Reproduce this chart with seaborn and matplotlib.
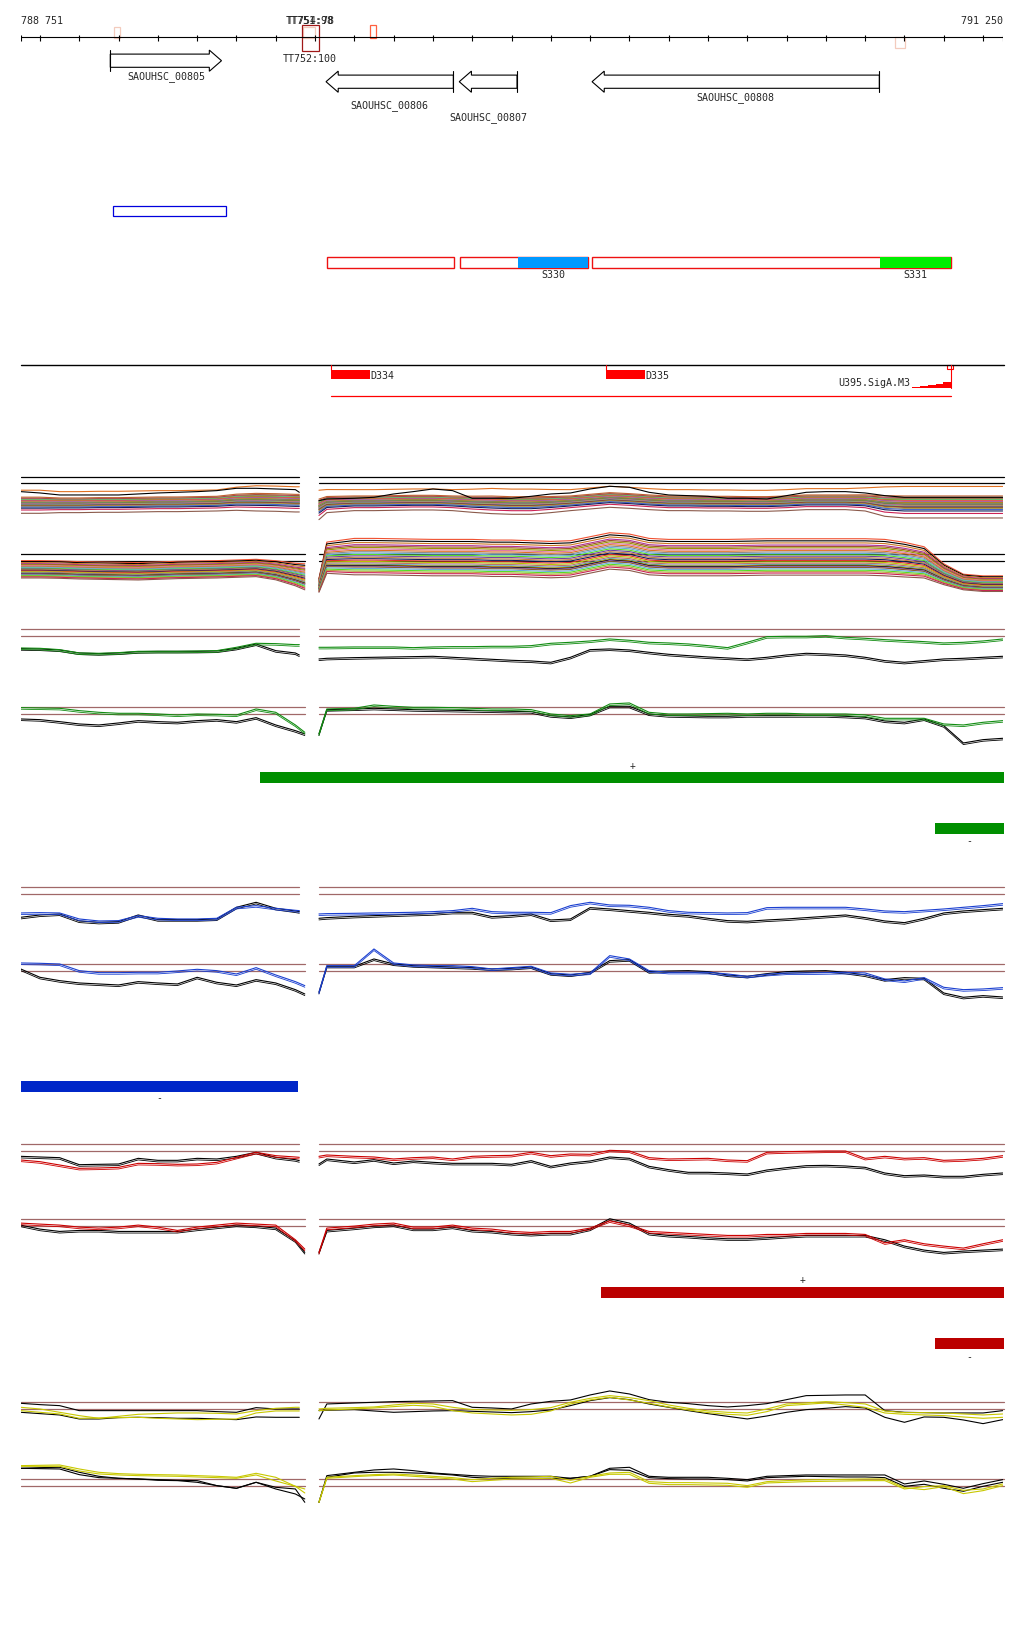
import pandas as pd
import seaborn as sns
import matplotlib.pyplot as plt
from matplotlib.patches import Rectangle, Polygon
from matplotlib.transforms import offset_copy

W, H = 1024, 1640
X0, X1 = 20.7, 1002.7          # pixel span of the ruler
START, END = 788751, 791250
EDGE = 791254                  # tracks run a few bp past the last tick

RULER_TICKS = [788751] + list(range(788800, 791201, 100)) + [791250]

# terminator / ruler marks (bp)
MARK_START = [788989, 789470, 789468, 789641, 790977]
MARK_END = [789004, 789500, 789511, 789656, 791001]
MARK_COLOR = ["#f3cbbd", "#f3cbbd", "#a01818", "#ff6040", "#f3cbbd"]
MARK_ROWS = [(28.3, 39.0), (28.3, 39.0), (26.3, 52.3), (26.3, 38.7), (38.3, 49.3)]
TT_TOP = ["TT751:98", "TT754:78"]
TT_BOTTOM = "TT752:100"
TT_POS = 789487

GENES = ["SAOUHSC_00805", "SAOUHSC_00806", "SAOUHSC_00807", "SAOUHSC_00808"]
GENE_START = [788979, 789528, 789867, 790205]
GENE_END = [789262, 789852, 790014, 790936]
GENE_STRAND = ["+", "-", "-", "-"]
GENE_LABEL_Y = [76.3, 106.0, 118.0, 97.3]

BLUE_BOX = (788985, 789273)
SEG_START = [789530, 789869, 790205]
SEG_END = [789853, 790195, 791118]
SITES = ["S330", "S331"]
SITE_START = [790016, 790937]
SITE_END = [790195, 791118]
SITE_COLOR = ["#0099ff", "#00ee00"]

PEAKS = ["D334", "D335"]
PEAK_START = [789540, 790240]
PEAK_END = [789641, 790340]
PROMOTER = "U395.SigA.M3"
PROMOTER_STEPS = [791019, 791039, 791059, 791079, 791099, 791118]
PROMOTER_SCORE = [1.0, 2.3, 3.3, 4.7, 6.7, 6.7]
RED_SPAN = (789540, 791118)

# strand bars: (start, end)
GREEN_PLUS = (789360, EDGE)
GREEN_MINUS = (791077, EDGE)
BLUE_MINUS = (788751, 789457)
RED_PLUS = (790228, EDGE)
RED_MINUS = (791077, EDGE)

# signal tracks sampled every 50 bp, left and right of the gap
LEFT_UP = [788751, 788800, 788850, 788900, 788950, 789000, 789050, 789100,
           789150, 789200, 789250, 789300, 789350, 789400, 789450, 789460]
LEFT_LOW = LEFT_UP[:-1] + [789474]
RIGHT = [789510, 789530, 789600, 789650, 789700, 789750, 789800, 789850,
         789900, 789950, 790000, 790050, 790100, 790150, 790200, 790250,
         790300, 790350, 790400, 790450, 790500, 790550, 790600, 790650,
         790700, 790750, 790800, 790850, 790900, 790950, 791000, 791050,
         791100, 791150, 791200, 791250]

# multi-sample bundles: common centre, spread and per-sample offsets
B1_CENTRE_L = [-57, -57, -58, -58, -57, -57, -56, -55, -55, -54, -53, -48, -47, -48, -50, -50]
B1_CENTRE_R = [-67, -55, -52, -52, -51, -50, -50, -52, -54, -55, -57, -57, -55, -52, -47, -42,
               -45, -49, -52, -52, -53, -53, -54, -54, -52, -49, -49, -49, -50, -57, -59, -59,
               -59, -59, -59, -59]
B1_SPREAD_L = [1.1, 1.1, 1.0, 1.0, 1.0, 1.0, 1.0, 1.0, 1.0, 1.0, 1.0, 1.1, 1.2, 1.2, 1.2, 1.2]
B1_SPREAD_R = [1.4, 1.1, 1.0, 1.0, 1.0, 1.0, 1.0, 1.0, 1.1, 1.2, 1.2, 1.2, 1.1, 1.0, 1.0, 1.0,
               1.0, 1.0, 1.0, 1.0, 1.0, 1.0, 1.0, 1.0, 1.0, 1.0, 1.0, 1.0, 1.1, 1.4, 1.5, 1.5,
               1.5, 1.5, 1.5, 1.5]
B1_TOP_L = [-25, -29, -35, -35, -35, -35, -32, -29, -27, -25, -22, -15, -15, -17, -19, -27]
B1_TOP_R = [-52, -47, -45, -42, -32, -25, -17, -22, -45, -45, -45, -39, -32, -29, -17, -9,
            -12, -27, -35, -37, -39, -45, -45, -47, -37, -27, -25, -25, -29, -37, -42, -42,
            -42, -42, -42, -42]
B1_OFFSETS = [33, 14, 11, 9, 8, 7, 6, 5, 4, 3, 2, 1, 0, 0, -1, -2, -3, -4, -5, -6, -7, -8,
              -9, -11, -13, -16, -21, -30]
B1_COLORS = ["#e07020", "#c06030", "#a0522d", "#b0309a", "#999900", "#66aadd", "#55dd22",
             "#e03030", "#f08060", "#7040a0", "#dd77aa", "#8c8c8c", "#b5c400", "#cc6600",
             "#3399aa", "#c08040", "#2e8b2e", "#bc6f6f", "#9966cc", "#d4a017", "#44bbcc",
             "#8b2252", "#8b5a2b", "#b8a040", "#4466cc", "#10205a", "#cc2255", "#8b5a4b"]

B2_CENTRE_L = [-25, -25, -26, -28, -29, -30, -31, -29, -27, -26, -25, -23, -21, -28, -41, -48]
B2_CENTRE_R = [-73, 9, 12, 12, 11, 10, 9, 9, 9, 7, 7, 5, 3, 5, 17, 29, 25, 12, 9, 9, 9, 9,
               10, 11, 11, 11, 11, 11, 11, 9, 3, -5, -40, -63, -68, -68]
B2_SPREAD_L = [1.0, 1.0, 1.0, 1.0, 1.0, 1.0, 1.0, 1.0, 1.0, 1.0, 1.0, 1.0, 1.0, 1.1, 1.3, 1.5]
B2_SPREAD_R = [0.8, 1.8, 2.1, 2.1, 2.1, 2.1, 2.1, 2.1, 2.1, 2.1, 2.1, 2.1, 2.1, 2.1, 2.1, 2.1,
               2.1, 2.1, 2.1, 2.1, 2.1, 2.1, 2.1, 2.1, 2.1, 2.1, 2.1, 2.1, 2.1, 2.1, 2.0, 1.8,
               1.2, 0.9, 0.9, 0.9]
B2_OFFSETS = [27, 24, 21, 18, 16, 14, 12, 10, 8, 6, 4, 2, 0, -2, -4, -6, -8, -10, -11, -12,
              -13, -14, -16, -18, -20, -22, -25]
B2_COLORS = ["#f05030", "#000000", "#cc7722", "#b0309a", "#a0522d", "#999900", "#dd77aa",
             "#e07020", "#8c8c8c", "#66aadd", "#55dd22", "#7040a0", "#c08040", "#10205a",
             "#e03030", "#b5c400", "#bc6f6f", "#3399aa", "#d4a017", "#000000", "#9966cc",
             "#8b5a2b", "#66aadd", "#55dd22", "#b8a040", "#cc2255", "#8b5a4b"]

# paired tracks (colour sample vs black sample)
G1_GREEN_L = [-35, -36, -40, -50, -51, -49, -45, -45, -45, -44, -43, -33, -21, -22, -25, -25]
G1_BLACK_L = [-37, -38, -41, -50, -52, -50, -46, -45, -45, -45, -44, -36, -23, -43, -50, -56]
G1_GREEN_R = [-33, -33, -32, -32, -32, -34, -32, -31, -31, -30, -30, -28, -21, -18, -14, -8,
              -12, -18, -20, -23, -28, -34, -18, -1, 0, 0, 2, -3, -6, -10, -13, -16, -20, -18,
              -14, -8]
G1_BLACK_R = [-68, -66, -64, -63, -62, -61, -60, -63, -66, -69, -72, -74, -78, -63, -40, -38,
              -41, -48, -54, -58, -62, -65, -68, -63, -56, -51, -53, -56, -63, -73, -78, -73,
              -68, -66, -63, -60]
G2_GREEN_L = [20, 19, 18, 11, 6, 3, 3, 1, -2, 1, 0, -2, 16, 6, -32, -54]
G2_BLACK_L = [-14, -16, -22, -29, -32, -26, -19, -22, -24, -19, -16, -22, -10, -32, -49, -59]
G2_GREEN_R = [-59, 16, 18, 28, 24, 21, 21, 20, 18, 16, 16, 14, 1, -4, 1, 31, 34, 6, 1, 1, 2,
              3, 1, 3, 3, 1, 1, 1, -2, -12, -12, -12, -29, -32, -24, -19]
G2_BLACK_R = [-59, 14, 16, 18, 16, 14, 13, 12, 11, 10, 9, 8, -4, -8, 0, 24, 24, 1, -4, -5, -6,
              -6, -4, -4, -4, -4, -4, -6, -9, -20, -24, -14, -34, -86, -76, -72]

B1_BLUE_L = [-56, -55, -56, -74, -80, -79, -64, -72, -74, -74, -72, -39, -34, -42, -48, -49]
B1_BLACK_L = [-69, -62, -59, -80, -84, -82, -62, -76, -76, -76, -74, -39, -24, -42, -50, -52]
B1_BLUE_R = [-59, -58, -57, -56, -55, -54, -52, -49, -42, -52, -54, -54, -55, -34, -24, -32,
             -33, -39, -49, -54, -55, -56, -55, -40, -39, -39, -39, -39, -44, -50, -52, -48,
             -44, -39, -34, -28]
B1_BLACK_R = [-72, -70, -66, -64, -62, -60, -58, -54, -54, -67, -64, -59, -77, -74, -40, -44,
              -49, -54, -60, -64, -72, -79, -81, -77, -74, -70, -66, -62, -70, -80, -85, -72,
              -56, -50, -46, -42]
B2_BLUE_L = [25, 24, 22, 2, -4, -4, -3, -3, 1, 6, 2, -8, 11, -11, -31, -43]
B2_BLACK_L = [7, -18, -28, -35, -38, -41, -31, -35, -38, -18, -33, -41, -25, -35, -55, -68]
B2_BLUE_R = [-63, 17, 17, 67, 25, 19, 17, 17, 14, 7, 11, 15, -5, -9, -5, 47, 37, 2, -3, -3, -3,
             -8, -15, -9, -5, -5, -4, -3, -5, -23, -29, -19, -48, -55, -53, -49]
B2_BLACK_R = [-63, 15, 15, 37, 22, 17, 15, 13, 11, 7, 9, 13, -7, -11, -3, 32, 35, -1, 1, 2, -1,
              -11, -15, -7, -1, 1, 2, -3, -11, -25, -19, -21, -65, -78, -73, -77]

R1_RED_L = [-27, -32, -42, -52, -51, -49, -37, -38, -40, -39, -34, -19, -4, -14, -18, -19]
R1_BLACK_L = [-16, -18, -20, -41, -40, -39, -22, -28, -28, -22, -24, -16, -4, -19, -26, -29]
R1_RED_R = [-16, -12, -16, -18, -24, -20, -18, -24, -16, -14, -13, -4, -14, -9, -10, 2, 0, -20,
            -24, -23, -22, -27, -29, -4, -2, -1, 0, 0, -22, -16, -22, -20, -28, -26, -22, -14]
R1_BLACK_R = [-39, -24, -33, -26, -36, -30, -34, -37, -37, -37, -40, -29, -46, -36, -30, -18,
              -22, -46, -56, -64, -64, -66, -69, -57, -50, -44, -43, -45, -49, -66, -74, -72,
              -76, -76, -70, -66]
R2_RED_L = [9, 6, 3, -3, -6, -3, 3, -3, -13, -3, 3, 9, 6, 3, -41, -69]
R2_BLACK_L = [3, -9, -16, -13, -13, -16, -16, -16, -16, -9, -3, 3, 0, -6, -44, -79]
R2_RED_R = [-79, -6, 0, 6, 9, -3, -3, 3, -6, -9, -16, -19, -16, -16, -6, 16, 3, -16, -19, -22,
            -25, -28, -28, -25, -25, -22, -22, -22, -25, -50, -41, -53, -60, -66, -53, -41]
R2_BLACK_R = [-79, -13, -6, 0, 3, -9, -9, -3, -13, -16, -22, -25, -22, -22, -9, 22, 9, -22,
              -28, -31, -35, -38, -38, -35, -31, -28, -28, -28, -28, -41, -60, -72, -79, -75,
              -72, -69]

Y1_YEL1_L = [6, 1, -9, -19, -27, -21, -15, -13, -11, -11, -12, -14, -4, 3, 6, 6]
Y1_YEL2_L = [-4, -9, -14, -27, -26, -25, -24, -27, -29, -31, -30, -29, -11, -5, -5, -5]
Y1_BLK1_L = [18, 14, 11, -4, -4, -4, -4, -4, -4, -4, -7, -9, 5, 1, 1, 1]
Y1_BLK2_L = [-9, -13, -17, -29, -29, -25, -24, -25, -27, -27, -29, -31, -23, -24, -24, -24]
Y1_YEL1_R = [1, 3, 5, 7, 13, 18, 16, 6, -1, -2, -3, -1, 5, 21, 33, 41, 35, 26, 13, 3, -5, -9,
             -11, 1, 16, 19, 23, 20, 16, -5, -10, -10, -11, -14, -17, -14]
Y1_YEL2_R = [-4, -2, 1, 4, 8, 12, 9, -4, -11, -14, -17, -15, -5, 16, 28, 36, 28, 18, 7, -2,
             -10, -15, -18, -7, 11, 15, 19, 13, 6, -11, -15, -17, -19, -23, -27, -24]
Y1_BLK1_R = [-29, 16, 19, 21, 23, 24, 25, 26, 6, 4, 1, 16, 24, 28, 43, 55, 46, 29, 21, 17, 11,
             7, 11, 17, 29, 41, 42, 43, 43, -4, -9, -10, -11, -11, -11, -4]
Y1_BLK2_R = [-4, -3, -1, -5, -9, -7, -5, -4, -6, -8, -10, -7, -2, 11, 26, 35, 29, 16, 6, -4,
             -13, -21, -29, -20, -9, -1, 3, 8, 4, -24, -39, -23, -24, -32, -43, -31]
Y2_YEL1_L = [62, 63, 64, 52, 42, 38, 36, 35, 34, 32, 30, 27, 39, 27, 0, -20]
Y2_YEL2_L = [60, 60, 60, 46, 37, 34, 32, 31, 30, 28, 26, 24, 34, 16, 0, -8]
Y2_BLK1_L = [54, 56, 57, 42, 30, 24, 22, 20, 18, 17, 2, -6, 12, -3, -8, -48]
Y2_BLK2_L = [54, 53, 52, 35, 26, 24, 22, 18, 17, 12, 2, -6, 12, -8, -23, -38]
Y2_YEL1_R = [-48, 27, 32, 35, 37, 34, 30, 26, 20, 24, 27, 28, 30, 18, 30, 40, 42, 14, 11, 11,
             10, 9, 2, 14, 17, 19, 20, 21, 22, 22, -4, -10, -1, -22, -13, 2]
Y2_YEL2_R = [-48, 24, 29, 32, 34, 30, 26, 22, 14, 18, 22, 23, 24, 10, 27, 36, 36, 9, 5, 5, 4,
             3, -3, 10, 12, 14, 15, 16, 17, 17, -8, -1, 2, -12, -8, 7]
Y2_BLK1_R = [-48, 32, 42, 49, 52, 47, 40, 36, 32, 30, 30, 30, 30, 24, 30, 54, 57, 30, 27, 27,
             27, 24, 20, 30, 32, 34, 34, 34, 34, 34, 7, 16, 6, -6, 8, 20]
Y2_BLK2_R = [-48, 27, 40, 42, 42, 40, 38, 34, 27, 24, 24, 24, 24, 24, 30, 50, 48, 26, 23, 22,
             22, 20, 16, 26, 28, 30, 29, 28, 28, 26, 0, 6, -6, -15, 0, 12]

GREEN, BLUE, RED, YELLOW = "#118c11", "#1a3fd0", "#cc0000", "#c8c800"
BROWN = "#a06868"

sns.set_style("white")
plt.rcParams["font.family"] = ["DejaVu Sans Mono", "DejaVu Sans"]
plt.rcParams["font.size"] = 7.2

fig = plt.figure(figsize=(W / 100, H / 100), dpi=100)


def px_axes(top, height):
    ax = fig.add_axes([X0 / W, 1 - (top + height) / H, (X1 - X0) / W, height / H])
    ax.set_xlim(START, END)
    ax.axis("off")
    ax.patch.set_alpha(0)
    return ax


ax0 = px_axes(0, H)
ax0.set_ylim(H, 0)

# ruler
ax0.plot([START, END], [38.3, 38.3], color="black", lw=0.8)
ax0.vlines(RULER_TICKS, 35.5, 41.5, color="black", lw=0.8)
ax0.text(START, 21, "788 751", ha="left", va="center")
ax0.text(END, 21, "791 250", ha="right", va="center")
for s, e, (y0, y1), c in zip(MARK_START, MARK_END, MARK_ROWS, MARK_COLOR):
    ax0.add_patch(Rectangle((s, y0), e - s, y1 - y0, fill=False, ec=c, lw=0.9))
for k, lab in enumerate(TT_TOP):
    ax0.text(TT_POS + k * 2, 21.5, lab, ha="center", va="center")
ax0.text(TT_POS, 59.3, TT_BOTTOM, ha="center", va="center")

# genes
HEAD = 31
for name, s, e, st, ly in zip(GENES, GENE_START, GENE_END, GENE_STRAND, GENE_LABEL_Y):
    c = 61.7 if st == "+" else 82.7
    bt, bb, ht, hb = c - 6.6, c + 6.6, c - 10.6, c + 10.6
    if st == "+":
        pts = [(s, bt), (e - HEAD, bt), (e - HEAD, ht), (e, c), (e - HEAD, hb), (e - HEAD, bb), (s, bb)]
        bar = s
    else:
        pts = [(e, bt), (s + HEAD, bt), (s + HEAD, ht), (s, c), (s + HEAD, hb), (s + HEAD, bb), (e, bb)]
        bar = e
    ax0.add_patch(Polygon(pts, closed=True, fc="white", ec="black", lw=0.8))
    ax0.plot([bar, bar], [ht, hb], color="black", lw=0.8)
    ax0.text((s + e) / 2, ly, name, ha="center", va="center")

# blue box and transcript segments
ax0.add_patch(Rectangle((BLUE_BOX[0], 207.3), BLUE_BOX[1] - BLUE_BOX[0], 9.7,
                        fill=False, ec="#0000dd", lw=0.9))
for s, e in zip(SEG_START, SEG_END):
    ax0.add_patch(Rectangle((s, 258.3), e - s, 10.4, fill=False, ec="#ee1111", lw=1.0))
for name, s, e, c in zip(SITES, SITE_START, SITE_END, SITE_COLOR):
    ax0.add_patch(Rectangle((s, 258.3), e - s, 10.4, fc=c, ec="none"))
    ax0.text((s + e) / 2, 275.5, name, ha="center", va="center")

# peaks and promoter
ax0.plot([START, EDGE], [366, 366], color="black", lw=1.0, clip_on=False)
for name, s, e in zip(PEAKS, PEAK_START, PEAK_END):
    ax0.plot([s, s], [366, 371], color="red", lw=0.8)
    ax0.add_patch(Rectangle((s, 371), e - s, 8.7, fc="red", ec="none"))
    ax0.text(e, 375.7, name, ha="left", va="center")
ax0.fill_between(PROMOTER_STEPS, 389.3, [389.3 - v for v in PROMOTER_SCORE],
                 step="post", color="red", lw=0)
ax0.plot([PROMOTER_STEPS[-1]] * 2, [366, 389.3], color="red", lw=0.8)
ax0.add_patch(Rectangle((PROMOTER_STEPS[-1] - 9, 366), 14, 4, fill=False, ec="red", lw=0.8))
ax0.text(PROMOTER_STEPS[0] - 5, 383.3, PROMOTER, ha="right", va="center")
ax0.plot(RED_SPAN, [397, 397], color="red", lw=0.9)

# strand bars
for (s, e), y0, col, sign, ty in [(GREEN_PLUS, 773, "#008f00", "+", 766),
                                  (GREEN_MINUS, 824, "#008f00", "-", 840.7),
                                  (BLUE_MINUS, 1082, "#0026c8", "-", 1098.3),
                                  (RED_PLUS, 1288, "#bb0000", "+", 1280.3),
                                  (RED_MINUS, 1339, "#bb0000", "-", 1356.7)]:
    ax0.add_patch(Rectangle((s, y0), e - s, 11, fc=col, ec="none", clip_on=False))
    ax0.text((s + e) / 2, ty, sign, ha="center", va="center", fontsize=7)


def track_axes(zero_px):
    ax = px_axes(zero_px - 45, 90)
    ax.set_ylim(-135, 135)
    return ax


def ref_lines(ax, left, levels, color):
    for lv in levels:
        ax.plot([left[0], left[-1]], [lv, lv], color=color, lw=0.9)
        ax.plot([RIGHT[0], EDGE], [lv, lv], color=color, lw=0.9, clip_on=False)


def series(ax, left, lv, rv, color, twin):
    for pos, vals in [(left, lv), (RIGHT, rv)]:
        sns.lineplot(x=pos, y=vals, ax=ax, color=color, lw=0.8, estimator=None,
                     sort=False, legend=False)
        if twin:
            ax.plot(pos, vals, color=color, lw=0.6,
                    transform=offset_copy(ax.transData, fig=fig, x=0, y=-1.6, units="dots"))


def bundle(ax, pos, centre, spread, offsets, colors):
    rows = []
    for k, off in enumerate(offsets):
        for p, c, s in zip(pos, centre, spread):
            rows.append((p, c + off * s, f"s{k:02d}"))
    df = pd.DataFrame(rows, columns=["pos", "val", "sample"])
    pal = {f"s{k:02d}": colors[k] for k in range(len(offsets))}
    sns.lineplot(data=df, x="pos", y="val", hue="sample", palette=pal, estimator=None,
                 sort=False, legend=False, lw=0.8, ax=ax)


# bundles
ax = track_axes(484.3)
ref_lines(ax, LEFT_UP, [0, 18], "black")
bundle(ax, LEFT_UP, B1_CENTRE_L, B1_SPREAD_L, B1_OFFSETS, B1_COLORS)
bundle(ax, RIGHT, B1_CENTRE_R, B1_SPREAD_R, B1_OFFSETS, B1_COLORS)
series(ax, LEFT_UP, B1_TOP_L, B1_TOP_R, "black", False)

ax = track_axes(562.3)
ref_lines(ax, [788745, 789474], [0, 21], "black")
bundle(ax, LEFT_LOW, B2_CENTRE_L, B2_SPREAD_L, B2_OFFSETS, B2_COLORS)
bundle(ax, RIGHT, B2_CENTRE_R, B2_SPREAD_R, B2_OFFSETS, B2_COLORS)

# paired tracks
PAIRED = [
    (637.3, LEFT_UP, [("black", G1_BLACK_L, G1_BLACK_R, True), (GREEN, G1_GREEN_L, G1_GREEN_R, True)]),
    (715.3, LEFT_LOW, [("black", G2_BLACK_L, G2_BLACK_R, True), (GREEN, G2_GREEN_L, G2_GREEN_R, True)]),
    (895.3, LEFT_UP, [("black", B1_BLACK_L, B1_BLACK_R, True), (BLUE, B1_BLUE_L, B1_BLUE_R, True)]),
    (972.3, LEFT_LOW, [("black", B2_BLACK_L, B2_BLACK_R, True), (BLUE, B2_BLUE_L, B2_BLUE_R, True)]),
    (1152.0, LEFT_UP, [("black", R1_BLACK_L, R1_BLACK_R, True), (RED, R1_RED_L, R1_RED_R, True)]),
    (1227.1, LEFT_LOW, [("black", R2_BLACK_L, R2_BLACK_R, True), (RED, R2_RED_L, R2_RED_R, True)]),
    (1410.3, LEFT_UP, [("black", Y1_BLK1_L, Y1_BLK1_R, False), ("black", Y1_BLK2_L, Y1_BLK2_R, False),
                       (YELLOW, Y1_YEL1_L, Y1_YEL1_R, False), (YELLOW, Y1_YEL2_L, Y1_YEL2_R, False)]),
    (1487.3, LEFT_LOW, [("black", Y2_BLK1_L, Y2_BLK1_R, False), ("black", Y2_BLK2_L, Y2_BLK2_R, False),
                        (YELLOW, Y2_YEL1_L, Y2_YEL1_R, False), (YELLOW, Y2_YEL2_L, Y2_YEL2_R, False)]),
]
for zero_px, left, lines in PAIRED:
    ax = track_axes(zero_px)
    ref_lines(ax, left, [0, 21], BROWN)
    for color, lv, rv, twin in lines:
        series(ax, left, lv, rv, color, twin)

fig.savefig("out.png", dpi=100)
